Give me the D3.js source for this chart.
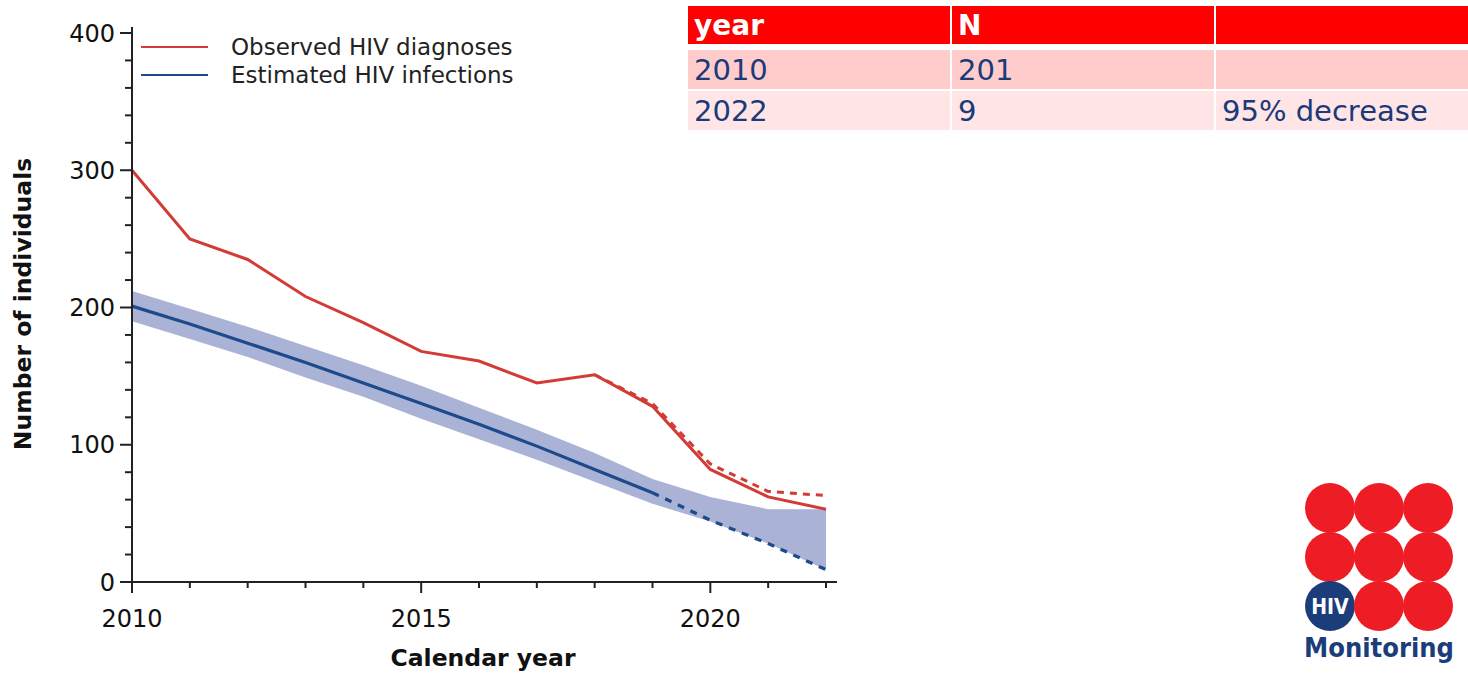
<!DOCTYPE html>
<html>
<head>
<meta charset="utf-8">
<script src="https://cdn.jsdelivr.net/npm/d3@7"></script>
<style>
  body { margin: 0; background: #fff; }
  svg { display: block; font-family: "DejaVu Sans", Verdana, sans-serif; }
</style>
</head>
<body>
<svg id="chart" width="1468" height="674"></svg>
<script>
// data
var years = [2010, 2011, 2012, 2013, 2014, 2015, 2016, 2017, 2018, 2019, 2020, 2021, 2022];
var observed = [300, 250, 235, 208, 189, 168, 161, 145, 151, 128, 82, 62, 53];
var observedAdjYears = [2018, 2019, 2020, 2021, 2022];
var observedAdj = [151, 130, 86, 66, 63];
var estimated = [201, 188, 174, 160, 145, 130, 115, 99, 82, 65, 45, 28, 9];
var bandUpper = [212, 199, 186, 172, 158, 143, 127, 111, 94, 75, 62, 53, 53];
var bandLower = [190, 177, 164, 149, 135, 119, 104, 89, 73, 57, 44, 28, 9];
var solidUntil = 2019;
var yTicks = [0, 100, 200, 300, 400];
var xTicks = [2010, 2015, 2020];
var legendLabels = ['Observed HIV diagnoses', 'Estimated HIV infections'];
var tableHeader = ['year', 'N', ''];
var tableRows = [['2010', '201', ''], ['2022', '9', '95% decrease']];

// colours
var red = '#d23b36';
var blue = '#1c4a8a';
var band = '#aab3d6';

var svg = d3.select('#chart');

var x = d3.scaleLinear().domain([2010, 2022]).range([132, 826]);
var y = d3.scaleLinear().domain([0, 400]).range([582, 33]);

// confidence band
var rows = years.map(function(yr, i) {
	return { year: yr, obs: observed[i], est: estimated[i], hi: bandUpper[i], lo: bandLower[i] };
});
svg.append('path')
	.datum(rows)
	.attr('fill', band)
	.attr('d', d3.area()
		.x(function(d) { return x(d.year); })
		.y0(function(d) { return y(d.lo); })
		.y1(function(d) { return y(d.hi); }));

var line = d3.line()
	.x(function(d) { return x(d.year); })
	.y(function(d) { return y(d.v); });

// estimated line: solid then dashed
var estSolid = rows.filter(function(d) { return d.year <= solidUntil; })
	.map(function(d) { return { year: d.year, v: d.est }; });
var estDash = rows.filter(function(d) { return d.year >= solidUntil; })
	.map(function(d) { return { year: d.year, v: d.est }; });
svg.append('path').datum(estSolid)
	.attr('fill', 'none').attr('stroke', blue).attr('stroke-width', 3.2)
	.attr('d', line);
svg.append('path').datum(estDash)
	.attr('fill', 'none').attr('stroke', blue).attr('stroke-width', 3.2)
	.attr('stroke-dasharray', '7,7')
	.attr('d', line);

// observed adjusted (dashed)
var adj = observedAdjYears.map(function(yr, i) { return { year: yr, v: observedAdj[i] }; });
svg.append('path').datum(adj)
	.attr('fill', 'none').attr('stroke', red).attr('stroke-width', 3)
	.attr('stroke-dasharray', '7,6')
	.attr('d', line);

// observed
svg.append('path')
	.datum(rows.map(function(d) { return { year: d.year, v: d.obs }; }))
	.attr('fill', 'none').attr('stroke', red).attr('stroke-width', 3)
	.attr('d', line);

// axes
var axisColor = '#222';
var yMinor = d3.range(0, 401, 20);
svg.selectAll('.ytick').data(yMinor).enter().append('line')
	.attr('x1', function(d) { return d % 100 === 0 ? 120 : 125; })
	.attr('x2', 132)
	.attr('y1', function(d) { return y(d); })
	.attr('y2', function(d) { return y(d); })
	.attr('stroke', axisColor).attr('stroke-width', 2);
svg.append('line')
	.attr('x1', 132).attr('x2', 132)
	.attr('y1', y(400) - 6).attr('y2', y(0) + 1)
	.attr('stroke', axisColor).attr('stroke-width', 2);
svg.selectAll('.ylab').data(yTicks).enter().append('text')
	.attr('x', 115)
	.attr('y', function(d) { return y(d); })
	.attr('dy', '0.36em')
	.attr('text-anchor', 'end')
	.attr('font-size', 24)
	.attr('fill', '#111')
	.text(function(d) { return d; });

var xMinor = d3.range(2010, 2023, 1);
svg.selectAll('.xtick').data(xMinor).enter().append('line')
	.attr('x1', function(d) { return x(d); })
	.attr('x2', function(d) { return x(d); })
	.attr('y1', y(0))
	.attr('y2', function(d) { return d % 5 === 0 ? y(0) + 11 : y(0) + 6; })
	.attr('stroke', axisColor).attr('stroke-width', 2);
svg.append('line')
	.attr('x1', 131).attr('x2', 837)
	.attr('y1', y(0)).attr('y2', y(0))
	.attr('stroke', axisColor).attr('stroke-width', 2);
svg.selectAll('.xlab').data(xTicks).enter().append('text')
	.attr('x', function(d) { return x(d); })
	.attr('y', 627)
	.attr('text-anchor', 'middle')
	.attr('font-size', 24)
	.attr('fill', '#111')
	.text(function(d) { return d; });

// axis titles
svg.append('text')
	.attr('transform', 'translate(31,304) rotate(-90)')
	.attr('text-anchor', 'middle')
	.attr('font-size', 23.5)
	.attr('font-weight', 'bold')
	.attr('fill', '#111')
	.text('Number of individuals');
svg.append('text')
	.attr('x', 483).attr('y', 666)
	.attr('text-anchor', 'middle')
	.attr('font-size', 23.5)
	.attr('font-weight', 'bold')
	.attr('fill', '#111')
	.text('Calendar year');

// legend
var legendColors = [red, blue];
var lg = svg.selectAll('.legend').data(legendLabels).enter().append('g')
	.attr('transform', function(d, i) { return 'translate(141,' + (47 + i * 28) + ')'; });
lg.append('line')
	.attr('x1', 0).attr('x2', 67)
	.attr('stroke', function(d, i) { return legendColors[i]; })
	.attr('stroke-width', 2);
lg.append('text')
	.attr('x', 90).attr('dy', '0.36em')
	.attr('font-size', 23)
	.attr('fill', '#222')
	.text(function(d) { return d; });

// table
var colX = [688, 952, 1216];
var colW = [262, 262, 252];
var rowY = [6, 50, 91];
var rowH = [38, 39, 39];
var rowFill = ['#ff0000', '#ffcccc', '#ffe5e5'];
var allRows = [tableHeader].concat(tableRows);
allRows.forEach(function(r, ri) {
	r.forEach(function(cell, ci) {
		svg.append('rect')
			.attr('x', colX[ci]).attr('y', rowY[ri])
			.attr('width', colW[ci]).attr('height', rowH[ri])
			.attr('fill', rowFill[ri]);
		svg.append('text')
			.attr('x', colX[ci] + 6)
			.attr('y', rowY[ri] + rowH[ri] / 2)
			.attr('dy', '0.36em')
			.attr('font-size', ri === 0 ? 28 : 29)
			.attr('font-weight', ri === 0 ? 'bold' : 'normal')
			.attr('fill', ri === 0 ? '#fff' : '#1a3a7a')
			.text(cell);
	});
});

// logo
var logo = svg.append('g').attr('transform', 'translate(1330,508)');
var dots = [];
for (var r = 0; r < 3; r++) {
	for (var c = 0; c < 3; c++) {
		dots.push({ r: r, c: c });
	}
}
logo.selectAll('circle').data(dots).enter().append('circle')
	.attr('cx', function(d) { return d.c * 49; })
	.attr('cy', function(d) { return d.r * 49; })
	.attr('r', 25)
	.attr('fill', function(d) { return d.r === 2 && d.c === 0 ? '#1b3d7a' : '#ee1c25'; });
logo.append('text')
	.attr('x', 0).attr('y', 98).attr('dy', '0.36em')
	.attr('text-anchor', 'middle')
	.attr('font-size', 21).attr('font-weight', 'bold')
	.attr('fill', '#fff')
	.attr('font-family', '"DejaVu Sans Condensed", sans-serif')
	.text('HIV');
logo.append('text')
	.attr('x', 49).attr('y', 149)
	.attr('text-anchor', 'middle')
	.attr('font-size', 27).attr('font-weight', 'bold')
	.attr('fill', '#1b3d7a')
	.attr('font-family', '"DejaVu Sans Condensed", sans-serif')
	.text('Monitoring');
</script>
</body>
</html>
